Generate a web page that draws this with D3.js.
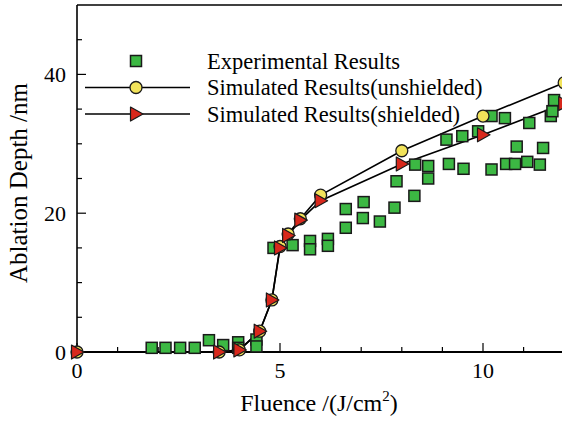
<!DOCTYPE html>
<html><head><meta charset="utf-8">
<script src="https://cdn.jsdelivr.net/npm/d3@7"></script>
<style>body{margin:0;background:#fff}svg{display:block}</style>
</head><body>
<script>
// ---- data ----
const expX = [1.84,2.18,2.54,2.9,3.25,3.6,3.97,3.97,4.42,4.42,4.84,5.31,5.74,5.74,6.18,6.18,6.62,6.62,7.06,7.04,7.46,7.82,7.87,8.31,8.33,8.65,8.65,9.1,9.16,9.49,9.52,9.88,10.21,10.21,10.54,10.57,10.79,10.83,11.09,11.14,11.4,11.48,11.67,11.71,11.75];
const expY = [0.6,0.6,0.6,0.6,1.7,1.0,1.4,0.6,1.8,0.8,15.0,15.4,16.0,14.8,16.3,15.3,20.6,17.9,21.6,19.3,18.8,20.8,24.6,22.5,27.0,26.8,25.0,30.6,27.1,31.1,26.4,31.8,34.0,26.3,33.7,27.1,27.1,29.6,27.4,33.0,27.0,29.4,34.0,34.7,36.3];
const simX = [0,3.5,4,4.5,4.8,5,5.2,5.5,6,8,10,12];
const unshieldedY = [0,0,0.3,3,7.5,15.2,17,19.2,22.6,29,34,38.8];
const shieldedY = [0,0,0.3,3,7.5,15,16.8,19,21.8,27.1,31.3,35.8];
const xMajor = [0,5,10];
const xMinor = [1,2,3,4,6,7,8,9,11];
const yMajor = [0,20,40];
const yMinor = [5,10,15,25,30,35,45];
const legendLabels = ["Experimental Results","Simulated Results(unshielded)","Simulated Results(shielded)"];

const W = 562, H = 422;
const FONT = "'Liberation Serif', 'Times New Roman', serif";
const svg = d3.select("body").append("svg").attr("width", W).attr("height", H);
const x = d3.scaleLinear().domain([0, 12]).range([77, 564.2]);
const y = d3.scaleLinear().domain([0, 50]).range([352, 5]);

const GREEN = "#3cb843", YELLOW = "#f2e35a", RED = "#d8281c", DARK = "#1a1a1a";

// frame
svg.append("line").attr("x1", x(0)).attr("x2", W + 5).attr("y1", y(50)).attr("y2", y(50)).attr("stroke", "#000").attr("stroke-width", 1.6);
svg.append("line").attr("x1", x(0)).attr("x2", x(0)).attr("y1", y(50)).attr("y2", y(0)).attr("stroke", "#000").attr("stroke-width", 1.6);
svg.append("line").attr("x1", x(0)).attr("x2", W + 5).attr("y1", y(0)).attr("y2", y(0)).attr("stroke", "#000").attr("stroke-width", 2);

// ticks
const tg = svg.append("g").attr("stroke", "#000").attr("stroke-width", 1.2);
xMajor.forEach(v => tg.append("line").attr("x1", x(v)).attr("x2", x(v)).attr("y1", y(0)).attr("y2", y(0) - 9));
xMinor.forEach(v => tg.append("line").attr("x1", x(v)).attr("x2", x(v)).attr("y1", y(0)).attr("y2", y(0) - 5));
yMajor.forEach(v => tg.append("line").attr("x1", x(0)).attr("x2", x(0) + 9).attr("y1", y(v)).attr("y2", y(v)));
yMinor.forEach(v => tg.append("line").attr("x1", x(0)).attr("x2", x(0) + 5).attr("y1", y(v)).attr("y2", y(v)));

// tick labels
svg.append("g").selectAll("text").data(xMajor).join("text")
  .attr("x", d => x(d)).attr("y", 378).attr("text-anchor", "middle")
  .attr("font-family", FONT).attr("font-size", 22).text(d => d);
svg.append("g").selectAll("text").data(yMajor).join("text")
  .attr("x", 66).attr("y", d => y(d) + 7.5).attr("text-anchor", "end")
  .attr("font-family", FONT).attr("font-size", 22).text(d => d);

// axis titles
const xt = svg.append("text").attr("x", 319).attr("y", 411).attr("text-anchor", "middle")
  .attr("font-family", FONT).attr("font-size", 24);
xt.append("tspan").text("Fluence /(J/cm");
xt.append("tspan").attr("font-size", 15).attr("dy", -10).text("2");
xt.append("tspan").attr("dy", 10).text(")");
svg.append("text").attr("transform", "translate(27,183) rotate(-90)").attr("text-anchor", "middle")
  .attr("font-family", FONT).attr("font-size", 25).text("Ablation Depth /nm");

// lines
const line = d3.line().x(d => x(d[0])).y(d => y(d[1]));
const unsh = simX.map((v, i) => [v, unshieldedY[i]]);
const sh = simX.map((v, i) => [v, shieldedY[i]]);
svg.append("path").attr("d", line(unsh)).attr("fill", "none").attr("stroke", "#000").attr("stroke-width", 1.6);
svg.append("path").attr("d", line(sh)).attr("fill", "none").attr("stroke", "#000").attr("stroke-width", 1.6);

// markers
const S = 11;
function square(g, cx, cy) {
  g.append("rect").attr("x", cx - S / 2).attr("y", cy - S / 2).attr("width", S).attr("height", S)
    .attr("fill", GREEN).attr("stroke", DARK).attr("stroke-width", 1.5);
}
function circle(g, cx, cy) {
  g.append("circle").attr("cx", cx).attr("cy", cy).attr("r", 6)
    .attr("fill", YELLOW).attr("stroke", DARK).attr("stroke-width", 1.3);
}
function tri(g, cx, cy) {
  g.append("path").attr("d", `M${cx - 5.5},${cy - 7}L${cx + 7},${cy}L${cx - 5.5},${cy + 7}Z`)
    .attr("fill", RED).attr("stroke", DARK).attr("stroke-width", 1.2).attr("stroke-linejoin", "round");
}
const mg = svg.append("g");
expX.forEach((v, i) => square(mg, x(v), y(expY[i])));
unsh.forEach(d => circle(mg, x(d[0]), y(d[1])));
sh.forEach(d => tri(mg, x(d[0]), y(d[1])));

// legend
const lg = svg.append("g");
const rows = [61, 87.5, 114];
square(lg, 136, rows[0]);
lg.append("line").attr("x1", 85).attr("x2", 190).attr("y1", rows[1]).attr("y2", rows[1]).attr("stroke", "#000").attr("stroke-width", 1.6);
circle(lg, 136, rows[1]);
lg.append("line").attr("x1", 85).attr("x2", 190).attr("y1", rows[2]).attr("y2", rows[2]).attr("stroke", "#000").attr("stroke-width", 1.6);
tri(lg, 136, rows[2]);
lg.selectAll("text").data(legendLabels).join("text")
  .attr("x", 207).attr("y", (d, i) => rows[i] + 7.5)
  .attr("font-family", FONT).attr("font-size", 22.5).text(d => d);
</script>
</body></html>
